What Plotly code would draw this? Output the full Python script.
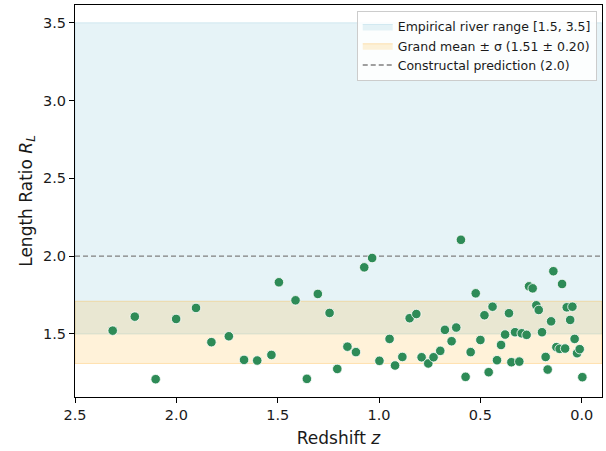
import plotly.graph_objects as go

# Redshift and length-ratio measurements
redshift = [
    2.314, 2.205, 2.102, 2.001, 1.903, 1.827, 1.741, 1.666, 1.601, 1.531,
    1.494, 1.412, 1.356, 1.302, 1.244, 1.206, 1.156, 1.114, 1.073, 1.034,
    0.998, 0.948, 0.921, 0.885, 0.849, 0.816, 0.790, 0.757, 0.731, 0.698,
    0.675, 0.642, 0.619, 0.596, 0.573, 0.548, 0.523, 0.500, 0.480, 0.459,
    0.440, 0.418, 0.398, 0.378, 0.359, 0.347, 0.329, 0.308, 0.296, 0.272,
    0.260, 0.242, 0.224, 0.212, 0.196, 0.178, 0.168, 0.151, 0.140, 0.125,
    0.109, 0.097, 0.082, 0.074, 0.057, 0.046, 0.035, 0.023, 0.010, -0.003,
]
length_ratio = [
    1.521, 1.611, 1.209, 1.596, 1.667, 1.447, 1.485, 1.333, 1.329, 1.365,
    1.832, 1.716, 1.211, 1.757, 1.635, 1.275, 1.418, 1.383, 1.928, 1.988,
    1.327, 1.468, 1.297, 1.352, 1.601, 1.628, 1.350, 1.310, 1.350, 1.391,
    1.526, 1.453, 1.541, 2.105, 1.224, 1.383, 1.761, 1.461, 1.620, 1.254,
    1.675, 1.331, 1.429, 1.496, 1.633, 1.318, 1.511, 1.322, 1.504, 1.494,
    1.806, 1.793, 1.684, 1.654, 1.511, 1.352, 1.271, 1.581, 1.903, 1.415,
    1.404, 1.821, 1.406, 1.671, 1.590, 1.675, 1.468, 1.376, 1.402, 1.222,
]

river_range = [1.5, 3.5]
grand_mean = 1.51
grand_sigma = 0.20
constructal = 2.0

x_range = [2.5, -0.1]
x_ticks = [2.5, 2.0, 1.5, 1.0, 0.5, 0.0]
y_ticks = [1.5, 2.0, 2.5, 3.0, 3.5]

# y limits: span of band + data with 5% padding
y_lo = min(min(length_ratio), grand_mean - grand_sigma)
y_hi = max(max(length_ratio), river_range[1])
pad = 0.05 * (y_hi - y_lo)
y_range = [y_lo - pad, y_hi + pad]

FONT = "DejaVu Sans, sans-serif"
blue_fill = "rgba(173,216,230,0.30)"
blue_edge = "rgba(173,216,230,0.45)"
orange_fill = "rgba(255,165,0,0.15)"
orange_edge = "rgba(255,165,0,0.25)"

fig = go.Figure()


def band(lo, hi, fill, edge, name):
    xs = [x_range[0], x_range[1], x_range[1], x_range[0], x_range[0]]
    ys = [lo, lo, hi, hi, lo]
    return go.Scatter(
        x=xs, y=ys, mode="lines", fill="toself", fillcolor=fill,
        line=dict(color=edge, width=1), name=name, hoverinfo="skip",
    )


fig.add_trace(band(river_range[0], river_range[1], blue_fill, blue_edge,
                   "Empirical river range [1.5, 3.5]"))
fig.add_trace(band(grand_mean - grand_sigma, grand_mean + grand_sigma,
                   orange_fill, orange_edge,
                   f"Grand mean ± σ ({grand_mean:.2f} ± {grand_sigma:.2f})"))
fig.add_trace(go.Scatter(
    x=x_range, y=[constructal, constructal], mode="lines",
    line=dict(color="#808080", width=1.3, dash="5px,3px"),
    name=f"Constructal prediction ({constructal:.1f})",
))
fig.add_trace(go.Scatter(
    x=redshift, y=length_ratio, mode="markers",
    marker=dict(size=9.5, color="#2E8B57", line=dict(color="white", width=0.8)),
    showlegend=False,
))

axis_common = dict(
    showgrid=False, zeroline=False, showline=True, linecolor="black",
    linewidth=1, mirror=True, ticks="outside", ticklen=5, tickwidth=1,
    tickcolor="black", tickfont=dict(family=FONT, size=14.5, color="#1a1a1a"),
)

fig.update_xaxes(
    range=x_range, tickvals=x_ticks, ticktext=[f"{v:.1f}" for v in x_ticks],
    title=dict(text="Redshift <i>z</i>", font=dict(family=FONT, size=17, color="#1a1a1a"),
               standoff=9),
    **axis_common,
)
fig.update_yaxes(
    range=y_range, tickvals=y_ticks, ticktext=[f"{v:.1f}" for v in y_ticks],
    title=dict(text="Length Ratio <i>R<sub>L</sub></i>",
               font=dict(family=FONT, size=17, color="#1a1a1a"), standoff=6),
    **axis_common,
)

fig.update_layout(
    width=606, height=451,
    margin=dict(l=75, r=4, t=5, b=54),
    paper_bgcolor="white", plot_bgcolor="white",
    font=dict(family=FONT, color="#1a1a1a"),
    legend=dict(
        x=0.99, y=0.985, xanchor="right", yanchor="top",
        bgcolor="rgba(255,255,255,0.85)", bordercolor="#cccccc", borderwidth=1,
        font=dict(family=FONT, size=12.5, color="#1a1a1a"),
        tracegroupgap=0, itemwidth=30,
    ),
)

fig.write_html("out.html")
